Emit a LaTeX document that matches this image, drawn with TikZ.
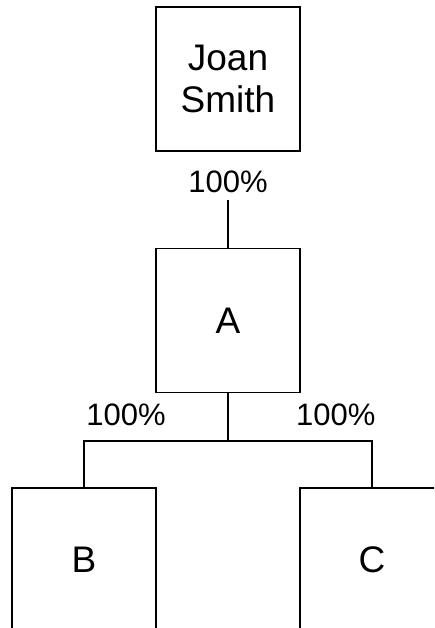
\documentclass[tikz,border=0pt]{standalone}
\usepackage{fontspec}
\setmainfont{Liberation Sans}
\begin{document}
\begin{tikzpicture}[x=1pt,y=-1pt,
  entity/.style={draw,line width=1.5pt,minimum width=144pt,minimum height=144pt,
    inner sep=0pt,align=center,font=\fontsize{37}{42}\selectfont},
  share/.style={inner sep=0pt,font=\fontsize{31}{35}\selectfont},
  link/.style={line width=1.5pt}]
\useasboundingbox (0,0) rectangle (434,628);
\clip (0,0) rectangle (434,628);
% owner and holdings
\node[entity] (joan) at (228,79) {Joan\\Smith};
\node[entity] (a) at (228,320.3) {A};
\node[entity] (b) at (84,560) {B};
\node[entity] (c) at (372,560) {C};
% ownership percentages
\node[share] (pj) at (228,182) {100\%};
\node[share] (pb) at (126,415) {100\%};
\node[share] (pc) at (335.7,415) {100\%};
% connectors
\coordinate (jt) at (228,200);
\draw[link] (jt) -- (a.north);
\draw[link] (a.south) -- ++(0,48) coordinate (split);
\draw[link] (split) -| (b.north);
\draw[link] (split) -| (c.north);
\end{tikzpicture}
\end{document}
